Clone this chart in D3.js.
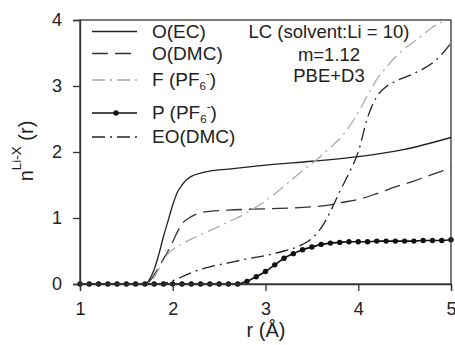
<!DOCTYPE html>
<html><head><meta charset="utf-8">
<script src="https://cdn.jsdelivr.net/npm/d3@7"></script>
<style>body{margin:0;background:#fff}svg text{font-family:Arial,"Liberation Sans",sans-serif;fill:#222}</style>
</head><body><svg id="c" width="455" height="345"></svg>
<script>
// ---- data ----
const xTicks = [1, 2, 3, 4, 5];
const yTicks = [0, 1, 2, 3, 4];

const rOEC = [1.0,1.7,1.75,1.8,1.85,1.9,1.95,2.0,2.05,2.1,2.15,2.2,2.3,2.4,2.6,2.8,3.0,3.5,4.0,4.5,5.0];
const nOEC = [0,0,0.07,0.22,0.45,0.72,0.96,1.2,1.39,1.5,1.58,1.63,1.68,1.71,1.74,1.77,1.8,1.86,1.93,2.04,2.22];

const rODMC = [1.0,1.7,1.75,1.8,1.85,1.9,1.95,2.0,2.05,2.1,2.2,2.3,2.4,2.6,3.0,3.5,3.7,3.8,4.0,4.2,4.4,4.6,4.8,5.0];
const nODMC = [0,0,0.04,0.14,0.26,0.38,0.5,0.64,0.79,0.91,1.02,1.08,1.1,1.12,1.14,1.17,1.2,1.23,1.28,1.37,1.47,1.56,1.66,1.76];

const rF = [1.0,1.7,1.75,1.8,1.85,1.9,1.95,2.0,2.1,2.2,2.4,2.6,2.8,3.0,3.2,3.4,3.6,3.7,3.8,3.9,4.0,4.1,4.2,4.3,4.4,4.5,4.6,4.7,4.8,4.9,5.0];
const nF = [0,0,0.02,0.1,0.23,0.36,0.46,0.52,0.61,0.68,0.81,0.94,1.08,1.26,1.48,1.72,1.94,2.07,2.2,2.38,2.6,2.86,3.1,3.28,3.44,3.57,3.67,3.78,3.89,3.97,4.04];

const rP = [1.0,1.1,1.2,1.3,1.4,1.5,1.6,1.7,1.8,1.9,2.0,2.1,2.2,2.3,2.4,2.5,2.6,2.7,2.8,2.9,3.0,3.1,3.2,3.3,3.4,3.5,3.6,3.7,3.8,3.9,4.0,4.1,4.2,4.3,4.4,4.5,4.6,4.7,4.8,4.9,5.0];
const nP = [0,0,0,0,0,0,0,0,0,0,0,0,0,0,0,0,0,0,0.04,0.11,0.19,0.29,0.39,0.46,0.52,0.56,0.6,0.62,0.63,0.64,0.64,0.64,0.65,0.65,0.65,0.65,0.65,0.66,0.66,0.66,0.67];

const rEO = [1.0,1.85,1.9,2.0,2.1,2.2,2.3,2.4,2.6,2.8,3.0,3.2,3.3,3.4,3.5,3.6,3.7,3.8,3.9,4.0,4.1,4.2,4.3,4.4,4.5,4.6,4.7,4.8,4.9,5.0];
const nEO = [0,0,0.01,0.05,0.11,0.17,0.22,0.26,0.32,0.38,0.43,0.5,0.54,0.6,0.69,0.85,1.1,1.4,1.68,2.0,2.52,2.84,2.99,3.07,3.13,3.19,3.26,3.35,3.48,3.65];

const legendLabels = ["O(EC)", "O(DMC)", "F (PF6-)", "P (PF6-)", "EO(DMC)"];
const annotation = ["LC (solvent:Li = 10)", "m=1.12", "PBE+D3"];

// ---- chart ----
const W = 455, H = 345;
const m = {l: 80, r: 4, t: 20, b: 61};
const svg = d3.select("#c");
const x = d3.scaleLinear().domain([1, 5]).range([m.l, W - m.r]);
const y = d3.scaleLinear().domain([0, 4]).range([H - m.b, m.t]);

svg.append("clipPath").attr("id", "clip").append("rect")
  .attr("x", m.l).attr("y", m.t).attr("width", W - m.r - m.l).attr("height", H - m.b - m.t);

const series = [
  {r: rOEC, n: nOEC, color: "#222", dash: null, w: 1.3},
  {r: rODMC, n: nODMC, color: "#333", dash: "16,7", w: 1.3},
  {r: rF, n: nF, color: "#aaa", dash: "13,5,2,5", w: 1.3},
  {r: rP, n: nP, color: "#111", dash: null, w: 1.6, markers: true},
  {r: rEO, n: nEO, color: "#222", dash: "13,5,2,5", w: 1.3}
];

const line = d3.line().x(d => x(d[0])).y(d => y(d[1])).curve(d3.curveMonotoneX);
const g = svg.append("g").attr("clip-path", "url(#clip)");
series.forEach(s => {
  const pts = s.r.map((v, i) => [v, s.n[i]]);
  g.append("path").attr("d", line(pts)).attr("fill", "none")
    .attr("stroke", s.color).attr("stroke-width", s.w)
    .attr("stroke-dasharray", s.dash);
  if (s.markers) {
    svg.append("g").selectAll("circle").data(pts).join("circle")
      .attr("cx", d => x(d[0])).attr("cy", d => y(d[1])).attr("r", 2.7).attr("fill", "#111");
  }
});

// frame
svg.append("rect").attr("x", m.l).attr("y", m.t).attr("width", W - m.r - m.l).attr("height", H - m.b - m.t)
  .attr("fill", "none").attr("stroke", "#333").attr("stroke-width", 1.3);

// axes
const ax = svg.append("g").attr("transform", `translate(0,${H - m.b})`)
  .call(d3.axisBottom(x).tickValues(xTicks).tickSize(7).tickPadding(11).tickFormat(d3.format("d")));
const ay = svg.append("g").attr("transform", `translate(${m.l},0)`)
  .call(d3.axisLeft(y).tickValues(yTicks).tickSize(7).tickPadding(11).tickFormat(d3.format("d")));
[ax, ay].forEach(a => {
  a.select(".domain").attr("stroke", "#333").attr("stroke-width", 1.3);
  a.selectAll(".tick line").attr("stroke", "#333").attr("stroke-width", 1.3);
  a.selectAll(".tick text").attr("font-size", 18).attr("fill", "#222")
    .style("font-family", "Arial, 'Liberation Sans', sans-serif");
});

// axis titles
svg.append("text").attr("x", 266).attr("y", 337).attr("text-anchor", "middle")
  .attr("font-size", 20).text("r (Å)");
const yl = svg.append("text").attr("transform", "translate(33,151) rotate(-90)")
  .attr("text-anchor", "middle").attr("font-size", 20);
yl.append("tspan").text("n");
yl.append("tspan").attr("font-size", 13.5).attr("dy", -12.5).text("Li-X");
yl.append("tspan").attr("dy", 12.5).text(" (r)");

// legend
const legY = [31.5, 53.5, 80, 113, 137];
const legText = [37.5, 60, 86, 119, 143];
series.forEach((s, i) => {
  svg.append("line").attr("x1", 92).attr("x2", 137).attr("y1", legY[i]).attr("y2", legY[i])
    .attr("stroke", s.color).attr("stroke-width", s.w).attr("stroke-dasharray", s.dash);
  if (s.markers) svg.append("circle").attr("cx", 116).attr("cy", legY[i]).attr("r", 2.7).attr("fill", "#111");
  const t = svg.append("text").attr("x", 152).attr("y", legText[i]).attr("font-size", 19);
  const lab = legendLabels[i];
  if (lab.endsWith("(PF6-)")) {
    t.append("tspan").text(lab.slice(0, lab.indexOf("PF6")) + "PF");
    t.append("tspan").attr("font-size", 11.5).attr("dy", 4).text("6");
    t.append("tspan").attr("font-size", 11.5).attr("dy", -13).text("-");
    t.append("tspan").attr("dy", 9).text(")");
  } else {
    t.text(lab);
  }
});

// annotation
const annY = [38, 61, 82];
annotation.forEach((a, i) => {
  svg.append("text").attr("x", 329).attr("y", annY[i]).attr("text-anchor", "middle")
    .attr("font-size", 18.5).text(a);
});
</script></body></html>
